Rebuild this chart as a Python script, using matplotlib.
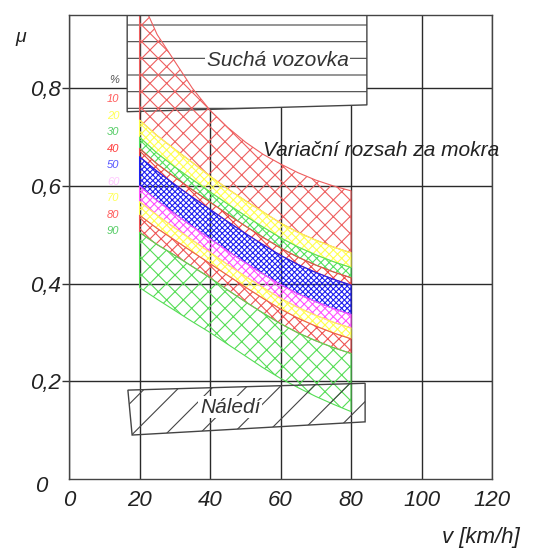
import matplotlib
matplotlib.use('Agg')
import matplotlib.pyplot as plt

plt.rcParams['font.family'] = ['Liberation Sans', 'DejaVu Sans']
plt.rcParams['hatch.linewidth'] = 0.8

# speed samples (km/h) and friction curves
v = [20, 25, 30, 35, 40, 45, 50, 55, 60, 65, 70, 75, 80]
top_10 = [0.990, 0.910, 0.855, 0.800, 0.755, 0.720, 0.690, 0.665, 0.645, 0.627, 0.612, 0.600, 0.590]
mu_10 = [0.735, 0.703, 0.675, 0.648, 0.620, 0.594, 0.570, 0.547, 0.524, 0.505, 0.489, 0.475, 0.463]
mu_20 = [0.700, 0.667, 0.639, 0.613, 0.588, 0.563, 0.539, 0.516, 0.494, 0.475, 0.459, 0.445, 0.433]
mu_30 = [0.677, 0.645, 0.618, 0.592, 0.567, 0.542, 0.518, 0.495, 0.473, 0.454, 0.438, 0.424, 0.412]
mu_40 = [0.660, 0.630, 0.603, 0.577, 0.552, 0.527, 0.503, 0.480, 0.458, 0.439, 0.423, 0.409, 0.397]
mu_50 = [0.600, 0.570, 0.543, 0.517, 0.492, 0.467, 0.443, 0.420, 0.398, 0.379, 0.363, 0.349, 0.337]
mu_60 = [0.568, 0.540, 0.514, 0.489, 0.464, 0.439, 0.415, 0.392, 0.370, 0.351, 0.335, 0.321, 0.309]
mu_70 = [0.540, 0.513, 0.489, 0.465, 0.441, 0.417, 0.393, 0.370, 0.348, 0.329, 0.313, 0.299, 0.287]
mu_80 = [0.505, 0.480, 0.458, 0.435, 0.412, 0.387, 0.363, 0.340, 0.318, 0.299, 0.283, 0.269, 0.257]
bottom_90 = [0.392, 0.368, 0.345, 0.322, 0.300, 0.276, 0.252, 0.228, 0.206, 0.187, 0.169, 0.153, 0.138]

# dry road box and ice box
dry_v = [16.5, 84.5]
dry_bottom = [0.752, 0.766]
dry_top = [0.95, 0.95]
ice_v = [16.7, 84.0, 84.0, 17.9]
ice_mu = [0.182, 0.196, 0.117, 0.090]

# legend of percentiles
pct_labels = ['%', '10', '20', '30', '40', '50', '60', '70', '80', '90']
pct_colors = ['#555555', '#ff5a5a', '#ffff55', '#55cc66', '#ff3b3b', '#5555ff', '#ffc8ff', '#ffff55', '#ff5a5a', '#55cc66']
pct_mu = [0.816, 0.778, 0.744, 0.710, 0.676, 0.643, 0.609, 0.575, 0.541, 0.507]

x_ticks = [0, 20, 40, 60, 80, 100, 120]
y_ticks = [0.2, 0.4, 0.6, 0.8]
y_labels = ['0,2', '0,4', '0,6', '0,8']

fig = plt.figure(figsize=(5.33, 5.5), dpi=100)
ax = fig.add_axes([0.1295, 0.1291, 0.7936, 0.8436])
ax.set_xlim(0, 120)
ax.set_ylim(0, 0.95)

ax.set_xticks(x_ticks)
ax.set_xticklabels([str(t) for t in x_ticks])
ax.set_yticks(y_ticks)
ax.set_yticklabels(y_labels)
ax.tick_params(axis='x', length=0, pad=8, labelsize=16, labelcolor='#222222')
ax.tick_params(axis='y', length=5, width=1, color='#333333', pad=1,
               labelsize=16, labelcolor='#222222')
for lab in ax.get_xticklabels() + ax.get_yticklabels():
    lab.set_style('italic')
ax.grid(True, color='#2a2a2a', linewidth=1)
ax.set_axisbelow(True)
for s in ax.spines.values():
    s.set_color('#444444')
    s.set_linewidth(1)

# dry road (white box with horizontal lines)
ax.fill_between(dry_v, dry_bottom, dry_top, facecolor='white', edgecolor='#444444',
                hatch='-', linewidth=1, zorder=1)
ax.axvline(20, ymin=dry_bottom[0] / 0.95, color='#444444', linewidth=1, zorder=1.5)

# wet road percentile bands
bands = [
    (top_10, mu_10, '#ee5f5f', 'xx'),
    (mu_10, mu_20, '#ffff50', 'xxxx'),
    (mu_20, mu_30, '#55e060', 'xxxx'),
    (mu_30, mu_40, '#ee4848', 'xxx'),
    (mu_40, mu_50, '#2020f0', 'xxxxxx'),
    (mu_50, mu_60, '#ff55ff', 'xxxx'),
    (mu_60, mu_70, '#ffff50', 'xxxx'),
    (mu_70, mu_80, '#ee5555', 'xxx'),
    (mu_80, bottom_90, '#55dd55', 'xx'),
]
for upper, lower, col, h in bands:
    ax.fill_between(v, lower, upper, facecolor='none', edgecolor=col,
                    hatch=h, linewidth=0.8, zorder=2)

# ice
ax.fill(ice_v, ice_mu, facecolor='none', edgecolor='#444444', hatch='/',
        linewidth=1, zorder=2)

ax.text(59.2, 0.857, 'Suchá vozovka', fontsize=15, style='italic', color='#333333',
        ha='center', va='center', zorder=4,
        bbox=dict(facecolor='white', edgecolor='none', pad=1))
ax.text(88.5, 0.673, 'Variační rozsah za mokra', fontsize=15, style='italic',
        color='#222222', ha='center', va='center', zorder=4)
ax.text(45.7, 0.147, 'Náledí', fontsize=15, style='italic', color='#333333',
        ha='center', va='center', zorder=4,
        bbox=dict(facecolor='white', edgecolor='none', pad=1))

for lab, col, mu in zip(pct_labels, pct_colors, pct_mu):
    ax.text(14.3, mu, lab, fontsize=8, style='italic', color=col,
            ha='right', va='center', zorder=4)

# corner zero and axis names
fig.text(41 / 533, 1 - 486 / 550, '0', fontsize=16, style='italic', color='#222222',
         ha='center', va='center')
fig.text(21 / 533, 1 - 38 / 550, 'μ', fontsize=14, style='italic', color='#222222',
         ha='center', va='center')
fig.text(520 / 533, 1 - 538 / 550, 'v [km/h]', fontsize=16, style='italic', color='#222222',
         ha='right', va='center')

fig.savefig('out.png', dpi=100)
